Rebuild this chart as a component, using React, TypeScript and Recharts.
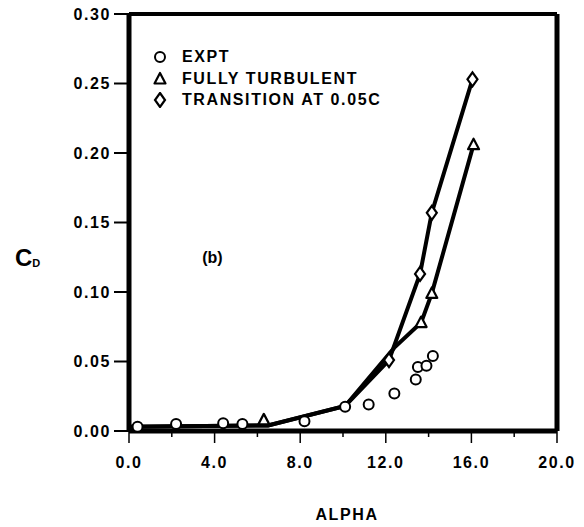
import { ComposedChart, Line, Scatter, XAxis, YAxis, ReferenceLine, ReferenceDot, Legend } from 'recharts';

const exptAlpha = [0.4, 2.2, 4.4, 5.3, 8.2, 10.1, 11.2, 12.4, 13.4, 13.5, 13.9, 14.2];
const exptCd = [0.003, 0.005, 0.0055, 0.005, 0.007, 0.0175, 0.019, 0.027, 0.037, 0.046, 0.047, 0.054];

const turbLineAlpha = [0, 6.5, 10.1, 12.4, 13.65, 14.15, 16.1];
const turbLineCd = [0.003, 0.004, 0.018, 0.06, 0.078, 0.099, 0.206];
const turbMarkAlpha = [6.3, 13.65, 14.15, 16.1];
const turbMarkCd = [0.008, 0.078, 0.099, 0.206];

const transLineAlpha = [0, 6.5, 10.1, 12.15, 13.6, 14.15, 16.05];
const transLineCd = [0.003, 0.004, 0.018, 0.051, 0.113, 0.157, 0.253];
const transMarkAlpha = [12.15, 13.6, 14.15, 16.05];
const transMarkCd = [0.051, 0.113, 0.157, 0.253];

const xTicks = [0, 2, 4, 6, 8, 10, 12, 14, 16, 18, 20];
const yTicks = [0, 0.05, 0.1, 0.15, 0.2, 0.25, 0.3];

const legendLabels = ['EXPT', 'FULLY TURBULENT', 'TRANSITION AT 0.05C'];
const legendSymbols = ['circle', 'triangle', 'diamond'];

const FONT = "'Liberation Sans', Arial, Helvetica, sans-serif";
const FS = 16;
const LS = 1.6;

const toPoints = (a: number[], c: number[]) => a.map((alpha, i) => ({ alpha, cd: c[i] }));

const exptData = toPoints(exptAlpha, exptCd);
const turbLine = toPoints(turbLineAlpha, turbLineCd);
const turbMarks = toPoints(turbMarkAlpha, turbMarkCd);
const transLine = toPoints(transLineAlpha, transLineCd);
const transMarks = toPoints(transMarkAlpha, transMarkCd);

const Symbol = ({ kind, cx, cy }: { kind: string; cx: number; cy: number }) => {
  if (kind === 'circle') {
    return <circle cx={cx} cy={cy} r={5} fill="#fff" stroke="#000" strokeWidth={2} />;
  }
  if (kind === 'triangle') {
    return (
      <polygon
        points={`${cx},${cy - 6} ${cx + 5.5},${cy + 4.5} ${cx - 5.5},${cy + 4.5}`}
        fill="#fff"
        stroke="#000"
        strokeWidth={2.2}
        strokeLinejoin="round"
      />
    );
  }
  return (
    <polygon
      points={`${cx},${cy - 7} ${cx + 5},${cy} ${cx},${cy + 7} ${cx - 5},${cy}`}
      fill="#fff"
      stroke="#000"
      strokeWidth={2.2}
    />
  );
};

const XTick = ({ x, y, payload }: any) => {
  const major = payload.value % 4 === 0;
  return (
    <g>
      <line x1={x} y1={y} x2={x} y2={y + (major ? 12 : 6)} stroke="#000" strokeWidth={1.5} />
      {major && (
        <text
          x={x}
          y={y + 31}
          dy="0.35em"
          textAnchor="middle"
          fontFamily={FONT}
          fontWeight="bold"
          fontSize={FS}
          letterSpacing={LS}
          fill="#000"
        >
          {payload.value.toFixed(1)}
        </text>
      )}
    </g>
  );
};

const YTick = ({ x, y, payload }: any) => (
  <g>
    <line x1={x - 15} y1={y} x2={x} y2={y} stroke="#000" strokeWidth={2} />
    <text
      x={x - 18}
      y={y}
      dy="0.35em"
      textAnchor="end"
      fontFamily={FONT}
      fontWeight="bold"
      fontSize={FS}
      letterSpacing={LS}
      fill="#000"
    >
      {payload.value.toFixed(2)}
    </text>
  </g>
);

const LegendBox = () => (
  <div style={{ fontFamily: FONT, fontWeight: 'bold', fontSize: FS, letterSpacing: LS, color: '#000' }}>
    {legendLabels.map((label, i) => (
      <div key={label} style={{ display: 'flex', alignItems: 'center', height: 21.7 }}>
        <svg width={16} height={16} style={{ marginRight: 14 }}>
          <Symbol kind={legendSymbols[i]} cx={8} cy={8} />
        </svg>
        <span>{label}</span>
      </div>
    ))}
  </div>
);

const App = () => {
  return (
    <div style={{ position: 'absolute', left: 0, top: 0, width: 584, height: 527, background: '#fff' }}>
      <ComposedChart width={584} height={527} margin={{ top: 14, right: 27, bottom: 46, left: 69 }}>
        <XAxis
          type="number"
          dataKey="alpha"
          domain={[0, 20]}
          ticks={xTicks}
          interval={0}
          height={50}
          tickSize={0}
          tickMargin={0}
          tickLine={false}
          tick={<XTick />}
          axisLine={{ stroke: '#000', strokeWidth: 5 }}
          label={({ viewBox }: any) => (
            <text
              x={viewBox.x + viewBox.width / 2 + 4}
              y={viewBox.y + 83}
              dy="0.35em"
              textAnchor="middle"
              fontFamily={FONT}
              fontWeight="bold"
              fontSize={FS}
              letterSpacing={LS}
              fill="#000"
            >
              ALPHA
            </text>
          )}
        />
        <YAxis
          type="number"
          dataKey="cd"
          domain={[0, 0.3]}
          ticks={yTicks}
          interval={0}
          width={60}
          tickSize={0}
          tickMargin={0}
          tickLine={false}
          tick={<YTick />}
          axisLine={{ stroke: '#000', strokeWidth: 5 }}
          label={({ viewBox }: any) => (
            <text x={viewBox.x - 54} y={viewBox.y + 252} fontFamily={FONT} fontWeight="bold" fill="#000">
              <tspan fontSize={24}>C</tspan>
              <tspan fontSize={11} dy={1}>D</tspan>
            </text>
          )}
        />
        <ReferenceLine y={0.3} stroke="#000" strokeWidth={4} ifOverflow="visible" />
        <ReferenceLine x={20} stroke="#000" strokeWidth={5} ifOverflow="visible" />
        <ReferenceDot
          x={3.9}
          y={0.125}
          r={0}
          fill="none"
          stroke="none"
          label={{ value: '(b)', position: 'center', fontFamily: FONT, fontWeight: 'bold', fontSize: FS, fill: '#000' }}
        />
        <Line
          data={transLine}
          dataKey="cd"
          stroke="#000"
          strokeWidth={4}
          dot={false}
          activeDot={false}
          isAnimationActive={false}
          legendType="none"
        />
        <Line
          data={turbLine}
          dataKey="cd"
          stroke="#000"
          strokeWidth={4}
          dot={false}
          activeDot={false}
          isAnimationActive={false}
          legendType="none"
        />
        <Scatter
          data={exptData}
          dataKey="cd"
          isAnimationActive={false}
          shape={(p: any) => <Symbol kind="circle" cx={p.cx} cy={p.cy} />}
        />
        <Scatter
          data={turbMarks}
          dataKey="cd"
          isAnimationActive={false}
          shape={(p: any) => <Symbol kind="triangle" cx={p.cx} cy={p.cy} />}
        />
        <Scatter
          data={transMarks}
          dataKey="cd"
          isAnimationActive={false}
          shape={(p: any) => <Symbol kind="diamond" cx={p.cx} cy={p.cy} />}
        />
        <Legend
          layout="vertical"
          verticalAlign="middle"
          align="center"
          content={<LegendBox />}
          wrapperStyle={{ left: 152, top: 46, width: 'auto' }}
        />
      </ComposedChart>
    </div>
  );
};

export default App;
